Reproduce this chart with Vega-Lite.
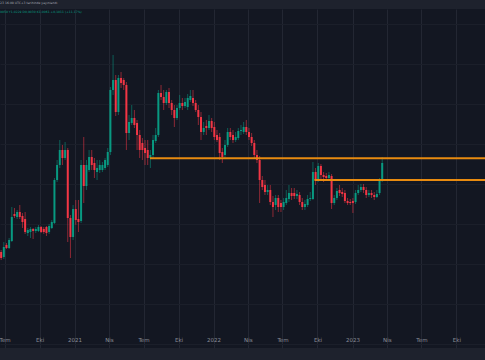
{
  "$schema": "https://vega.github.io/schema/vega-lite/v6.json",
  "width": 485,
  "height": 339,
  "autosize": "none",
  "padding": {"top": 9, "left": 0, "right": 0, "bottom": 12},
  "background": "#1e222d",
  "config": {
    "view": {"fill": "#131722", "stroke": null},
    "font": "DejaVu Sans"
  },
  "title": {
    "text": "23 16:09 UTC+3 tarihinde yayınlandı",
    "subtitle": "9050 Y1,0229 D0,9030 K1,0061 +0,1011 (+11,17%)",
    "anchor": "start",
    "frame": "group",
    "orient": "top",
    "offset": -5,
    "fontSize": 3.1,
    "fontWeight": "normal",
    "color": "#a3a6af",
    "subtitleFontSize": 3.1,
    "subtitleColor": "#089981",
    "subtitlePadding": 5.5
  },
  "datasets": {
    "candles": [
      {"d":"2020-06-22","o":0.56,"h":0.57,"l":0.52,"c":0.53},
      {"d":"2020-06-29","o":0.535,"h":0.61,"l":0.525,"c":0.585},
      {"d":"2020-07-06","o":0.595,"h":0.605,"l":0.575,"c":0.58},
      {"d":"2020-07-13","o":0.58,"h":0.63,"l":0.575,"c":0.62},
      {"d":"2020-07-20","o":0.615,"h":0.785,"l":0.61,"c":0.735},
      {"d":"2020-07-27","o":0.75,"h":0.78,"l":0.73,"c":0.74},
      {"d":"2020-08-03","o":0.735,"h":0.77,"l":0.725,"c":0.76},
      {"d":"2020-08-10","o":0.76,"h":0.795,"l":0.725,"c":0.735},
      {"d":"2020-08-17","o":0.74,"h":0.755,"l":0.68,"c":0.71},
      {"d":"2020-08-24","o":0.725,"h":0.76,"l":0.65,"c":0.66},
      {"d":"2020-08-31","o":0.655,"h":0.68,"l":0.64,"c":0.67},
      {"d":"2020-09-07","o":0.66,"h":0.685,"l":0.63,"c":0.675},
      {"d":"2020-09-14","o":0.675,"h":0.68,"l":0.625,"c":0.665},
      {"d":"2020-09-21","o":0.665,"h":0.685,"l":0.655,"c":0.675},
      {"d":"2020-09-28","o":0.665,"h":0.695,"l":0.66,"c":0.685},
      {"d":"2020-10-05","o":0.685,"h":0.69,"l":0.655,"c":0.66},
      {"d":"2020-10-12","o":0.675,"h":0.685,"l":0.65,"c":0.66},
      {"d":"2020-10-19","o":0.685,"h":0.69,"l":0.64,"c":0.655},
      {"d":"2020-10-26","o":0.66,"h":0.7,"l":0.65,"c":0.69},
      {"d":"2020-11-02","o":0.68,"h":0.72,"l":0.675,"c":0.71},
      {"d":"2020-11-09","o":0.705,"h":0.93,"l":0.7,"c":0.92},
      {"d":"2020-11-16","o":0.92,"h":1.02,"l":0.91,"c":0.995},
      {"d":"2020-11-23","o":0.995,"h":1.12,"l":0.98,"c":1.07},
      {"d":"2020-11-30","o":1.07,"h":1.095,"l":0.995,"c":1.03},
      {"d":"2020-12-07","o":1.03,"h":1.11,"l":1.02,"c":1.07},
      {"d":"2020-12-14","o":1.07,"h":1.08,"l":0.61,"c":0.73},
      {"d":"2020-12-21","o":0.73,"h":0.745,"l":0.53,"c":0.635},
      {"d":"2020-12-28","o":0.635,"h":0.795,"l":0.62,"c":0.775},
      {"d":"2021-01-04","o":0.775,"h":0.82,"l":0.695,"c":0.72},
      {"d":"2021-01-11","o":0.725,"h":0.82,"l":0.66,"c":0.71},
      {"d":"2021-01-18","o":0.715,"h":1.02,"l":0.705,"c":0.995},
      {"d":"2021-01-25","o":0.995,"h":1.135,"l":0.805,"c":0.89},
      {"d":"2021-02-01","o":0.89,"h":1.02,"l":0.87,"c":0.995},
      {"d":"2021-02-08","o":0.97,"h":1.07,"l":0.96,"c":1.035},
      {"d":"2021-02-15","o":1.035,"h":1.07,"l":0.97,"c":0.995},
      {"d":"2021-02-22","o":1.005,"h":1.03,"l":0.93,"c":0.97},
      {"d":"2021-03-01","o":0.96,"h":1.02,"l":0.92,"c":0.98},
      {"d":"2021-03-08","o":0.97,"h":1.02,"l":0.955,"c":0.995},
      {"d":"2021-03-15","o":0.97,"h":1.01,"l":0.96,"c":0.995},
      {"d":"2021-03-22","o":0.98,"h":1.03,"l":0.97,"c":1.02},
      {"d":"2021-03-29","o":0.995,"h":1.08,"l":0.985,"c":1.06},
      {"d":"2021-04-05","o":1.06,"h":1.385,"l":1.045,"c":1.37},
      {"d":"2021-04-12","o":1.37,"h":1.545,"l":1.345,"c":1.42},
      {"d":"2021-04-19","o":1.42,"h":1.445,"l":1.24,"c":1.26},
      {"d":"2021-04-26","o":1.26,"h":1.445,"l":1.245,"c":1.43},
      {"d":"2021-05-03","o":1.43,"h":1.46,"l":1.38,"c":1.405},
      {"d":"2021-05-10","o":1.42,"h":1.43,"l":1.37,"c":1.395},
      {"d":"2021-05-17","o":1.395,"h":1.41,"l":1.07,"c":1.155},
      {"d":"2021-05-24","o":1.155,"h":1.245,"l":1.12,"c":1.21},
      {"d":"2021-05-31","o":1.205,"h":1.295,"l":1.195,"c":1.23},
      {"d":"2021-06-07","o":1.23,"h":1.27,"l":1.18,"c":1.195},
      {"d":"2021-06-14","o":1.205,"h":1.22,"l":1.07,"c":1.145},
      {"d":"2021-06-21","o":1.145,"h":1.17,"l":1.03,"c":1.07},
      {"d":"2021-06-28","o":1.105,"h":1.13,"l":1.02,"c":1.07},
      {"d":"2021-07-05","o":1.08,"h":1.12,"l":0.995,"c":1.055},
      {"d":"2021-07-12","o":1.07,"h":1.12,"l":0.995,"c":1.03},
      {"d":"2021-07-19","o":1.03,"h":1.07,"l":0.98,"c":1.045},
      {"d":"2021-07-26","o":1.045,"h":1.145,"l":1.03,"c":1.12},
      {"d":"2021-08-02","o":1.115,"h":1.18,"l":1.105,"c":1.145},
      {"d":"2021-08-09","o":1.145,"h":1.37,"l":1.135,"c":1.355},
      {"d":"2021-08-16","o":1.355,"h":1.395,"l":1.32,"c":1.335},
      {"d":"2021-08-23","o":1.335,"h":1.37,"l":1.27,"c":1.305},
      {"d":"2021-08-30","o":1.305,"h":1.37,"l":1.295,"c":1.36},
      {"d":"2021-09-06","o":1.36,"h":1.38,"l":1.28,"c":1.305},
      {"d":"2021-09-13","o":1.305,"h":1.32,"l":1.245,"c":1.27},
      {"d":"2021-09-20","o":1.27,"h":1.295,"l":1.185,"c":1.23},
      {"d":"2021-09-27","o":1.23,"h":1.295,"l":1.22,"c":1.28},
      {"d":"2021-10-04","o":1.28,"h":1.345,"l":1.27,"c":1.305},
      {"d":"2021-10-11","o":1.305,"h":1.33,"l":1.27,"c":1.29},
      {"d":"2021-10-18","o":1.29,"h":1.33,"l":1.28,"c":1.31},
      {"d":"2021-10-25","o":1.285,"h":1.35,"l":1.27,"c":1.33},
      {"d":"2021-11-01","o":1.32,"h":1.37,"l":1.31,"c":1.34},
      {"d":"2021-11-08","o":1.33,"h":1.37,"l":1.29,"c":1.305},
      {"d":"2021-11-15","o":1.305,"h":1.32,"l":1.26,"c":1.27},
      {"d":"2021-11-22","o":1.27,"h":1.295,"l":1.195,"c":1.235},
      {"d":"2021-11-29","o":1.235,"h":1.26,"l":1.12,"c":1.16},
      {"d":"2021-12-06","o":1.16,"h":1.21,"l":1.145,"c":1.18},
      {"d":"2021-12-13","o":1.19,"h":1.22,"l":1.145,"c":1.18},
      {"d":"2021-12-20","o":1.18,"h":1.245,"l":1.17,"c":1.215},
      {"d":"2021-12-27","o":1.215,"h":1.23,"l":1.16,"c":1.18},
      {"d":"2022-01-03","o":1.185,"h":1.21,"l":1.12,"c":1.135},
      {"d":"2022-01-10","o":1.145,"h":1.17,"l":1.11,"c":1.12},
      {"d":"2022-01-17","o":1.135,"h":1.155,"l":1.02,"c":1.055},
      {"d":"2022-01-24","o":1.06,"h":1.08,"l":1.005,"c":1.035},
      {"d":"2022-01-31","o":1.045,"h":1.12,"l":1.03,"c":1.095},
      {"d":"2022-02-07","o":1.095,"h":1.18,"l":1.085,"c":1.16},
      {"d":"2022-02-14","o":1.16,"h":1.18,"l":1.12,"c":1.135},
      {"d":"2022-02-21","o":1.145,"h":1.17,"l":1.105,"c":1.12},
      {"d":"2022-02-28","o":1.12,"h":1.16,"l":1.11,"c":1.135},
      {"d":"2022-03-07","o":1.13,"h":1.18,"l":1.12,"c":1.165},
      {"d":"2022-03-14","o":1.165,"h":1.195,"l":1.145,"c":1.17},
      {"d":"2022-03-21","o":1.16,"h":1.21,"l":1.15,"c":1.185},
      {"d":"2022-03-28","o":1.185,"h":1.22,"l":1.145,"c":1.16},
      {"d":"2022-04-04","o":1.16,"h":1.18,"l":1.12,"c":1.135},
      {"d":"2022-04-11","o":1.135,"h":1.155,"l":1.09,"c":1.105},
      {"d":"2022-04-18","o":1.105,"h":1.12,"l":1.03,"c":1.045},
      {"d":"2022-04-25","o":1.045,"h":1.07,"l":1.005,"c":1.02},
      {"d":"2022-05-02","o":1.02,"h":1.04,"l":0.805,"c":0.92},
      {"d":"2022-05-09","o":0.92,"h":0.94,"l":0.87,"c":0.885},
      {"d":"2022-05-16","o":0.895,"h":0.92,"l":0.845,"c":0.86},
      {"d":"2022-05-23","o":0.86,"h":0.895,"l":0.845,"c":0.87},
      {"d":"2022-05-30","o":0.87,"h":0.895,"l":0.795,"c":0.81},
      {"d":"2022-06-06","o":0.81,"h":0.84,"l":0.735,"c":0.785},
      {"d":"2022-06-13","o":0.795,"h":0.845,"l":0.77,"c":0.83},
      {"d":"2022-06-20","o":0.83,"h":0.845,"l":0.76,"c":0.785},
      {"d":"2022-06-27","o":0.805,"h":0.82,"l":0.76,"c":0.785},
      {"d":"2022-07-04","o":0.785,"h":0.83,"l":0.77,"c":0.81},
      {"d":"2022-07-11","o":0.805,"h":0.87,"l":0.795,"c":0.83},
      {"d":"2022-07-18","o":0.825,"h":0.895,"l":0.81,"c":0.855},
      {"d":"2022-07-25","o":0.855,"h":0.88,"l":0.82,"c":0.84},
      {"d":"2022-08-01","o":0.855,"h":0.88,"l":0.825,"c":0.84},
      {"d":"2022-08-08","o":0.84,"h":0.87,"l":0.825,"c":0.85},
      {"d":"2022-08-15","o":0.845,"h":0.86,"l":0.795,"c":0.81},
      {"d":"2022-08-22","o":0.81,"h":0.83,"l":0.77,"c":0.785},
      {"d":"2022-08-29","o":0.785,"h":0.82,"l":0.77,"c":0.8},
      {"d":"2022-09-05","o":0.795,"h":0.845,"l":0.785,"c":0.825},
      {"d":"2022-09-12","o":0.825,"h":0.86,"l":0.815,"c":0.83},
      {"d":"2022-09-19","o":0.825,"h":1.01,"l":0.82,"c":0.96},
      {"d":"2022-09-26","o":0.96,"h":0.98,"l":0.895,"c":0.92},
      {"d":"2022-10-03","o":0.92,"h":1.005,"l":0.91,"c":0.99},
      {"d":"2022-10-10","o":0.99,"h":1.0,"l":0.92,"c":0.945},
      {"d":"2022-10-17","o":0.945,"h":0.96,"l":0.91,"c":0.935},
      {"d":"2022-10-24","o":0.94,"h":0.955,"l":0.915,"c":0.93},
      {"d":"2022-10-31","o":0.93,"h":0.96,"l":0.92,"c":0.945},
      {"d":"2022-11-07","o":0.94,"h":0.95,"l":0.775,"c":0.805},
      {"d":"2022-11-14","o":0.805,"h":0.845,"l":0.795,"c":0.83},
      {"d":"2022-11-21","o":0.83,"h":0.88,"l":0.82,"c":0.865},
      {"d":"2022-11-28","o":0.87,"h":0.895,"l":0.84,"c":0.855},
      {"d":"2022-12-05","o":0.86,"h":0.88,"l":0.835,"c":0.85},
      {"d":"2022-12-12","o":0.855,"h":0.87,"l":0.805,"c":0.815},
      {"d":"2022-12-19","o":0.815,"h":0.83,"l":0.795,"c":0.805},
      {"d":"2022-12-26","o":0.81,"h":0.825,"l":0.795,"c":0.805},
      {"d":"2023-01-02","o":0.815,"h":0.83,"l":0.755,"c":0.805},
      {"d":"2023-01-09","o":0.81,"h":0.87,"l":0.8,"c":0.855},
      {"d":"2023-01-16","o":0.855,"h":0.895,"l":0.845,"c":0.87},
      {"d":"2023-01-23","o":0.87,"h":0.9,"l":0.86,"c":0.885},
      {"d":"2023-01-30","o":0.885,"h":0.9,"l":0.855,"c":0.87},
      {"d":"2023-02-06","o":0.87,"h":0.885,"l":0.83,"c":0.845},
      {"d":"2023-02-13","o":0.845,"h":0.87,"l":0.835,"c":0.855},
      {"d":"2023-02-20","o":0.855,"h":0.87,"l":0.83,"c":0.845},
      {"d":"2023-02-27","o":0.845,"h":0.86,"l":0.82,"c":0.835},
      {"d":"2023-03-06","o":0.835,"h":0.87,"l":0.83,"c":0.85},
      {"d":"2023-03-13","o":0.855,"h":0.93,"l":0.845,"c":0.92},
      {"d":"2023-03-20","o":0.92,"h":1.035,"l":0.91,"c":1.005}
    ],
    "levels": [
      {"s":"2021-07-18","e":"2023-12-15","p":1.029},
      {"s":"2022-09-23","e":"2023-12-15","p":0.92}
    ]
  },
  "layer": [
    {
      "data": {"name": "candles"},
      "mark": {"type": "rule", "strokeWidth": 1, "opacity": 0.55, "clip": true},
      "encoding": {
        "x": {
          "field": "d", "type": "temporal",
          "scale": {"domain": ["2020-06-19", "2023-12-15"], "padding": 0, "nice": false},
          "axis": {
            "title": null,
            "orient": "bottom",
            "offset": -14,
            "domain": false,
            "ticks": false,
            "grid": true,
            "gridColor": "#232733",
            "gridWidth": 1,
            "tickCount": {"interval": "month", "step": 3},
            "labelFontSize": 5.5,
            "labelColor": "#8c8f99",
            "labelPadding": 3,
            "labelBaseline": "top",
            "labelFlush": false,
            "labelOverlap": false,
            "labelExpr": "month(datum.value) == 3 ? 'Nis' : month(datum.value) == 6 ? 'Tem' : month(datum.value) == 9 ? 'Eki' : timeFormat(datum.value, '%Y')"
          }
        },
        "y": {
          "field": "l", "type": "quantitative",
          "scale": {"domain": [0.08, 1.775], "zero": false, "nice": false, "padding": 0},
          "axis": {
            "title": null,
            "labels": false,
            "ticks": false,
            "domain": false,
            "grid": true,
            "gridColor": "#1b1f2a",
            "values": [0.1, 0.2, 0.3, 0.4, 0.5, 0.6, 0.7, 0.8, 0.9, 1.0, 1.1, 1.2, 1.3, 1.4, 1.5, 1.6, 1.7]
          }
        },
        "y2": {"field": "h"},
        "color": {
          "condition": {"test": "datum.c >= datum.o", "value": "#089981"},
          "value": "#f23645"
        }
      }
    },
    {
      "data": {"name": "candles"},
      "mark": {"type": "bar", "size": 2, "clip": true},
      "encoding": {
        "x": {"field": "d", "type": "temporal"},
        "y": {"field": "o", "type": "quantitative"},
        "y2": {"field": "c"},
        "color": {
          "condition": {"test": "datum.c >= datum.o", "value": "#089981"},
          "value": "#f23645"
        }
      }
    },
    {
      "data": {"name": "levels"},
      "mark": {"type": "rule", "strokeWidth": 2, "color": "#e88b10", "clip": true},
      "encoding": {
        "x": {"field": "s", "type": "temporal"},
        "x2": {"field": "e"},
        "y": {"field": "p", "type": "quantitative"}
      }
    }
  ]
}
